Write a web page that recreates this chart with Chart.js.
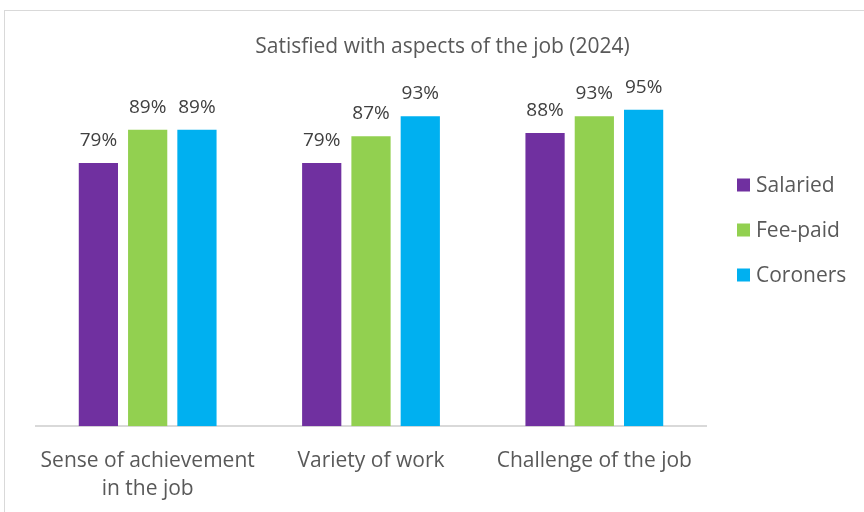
<!DOCTYPE html>
<html>
<head>
<meta charset="utf-8">
<script src="https://cdn.jsdelivr.net/npm/chart.js@4"></script>
<style>
  html, body { margin: 0; padding: 0; background: #fff; overflow: hidden; }
  #frame { position: absolute; left: 4px; top: 10px; width: 900px; height: 540px; border: 1.5px solid #d9d9d9; }
  #wrap { position: absolute; left: 0; top: 0; width: 885px; height: 524px; }
</style>
</head>
<body>
<div id="frame"></div>
<div id="wrap"><canvas id="chart" width="885" height="524"></canvas></div>
<script>
const Categories = [['Sense of achievement', 'in the job'], 'Variety of work', 'Challenge of the job'];
const SeriesNames = ['Salaried', 'Fee-paid', 'Coroners'];
const Salaried = [79, 79, 88];
const FeePaid = [89, 87, 93];
const Coroners = [89, 93, 95];
const SeriesColors = ['#7030A0', '#92D050', '#00B0F0'];
const ChartTitle = 'Satisfied with aspects of the job (2024)';

const FontName = '"Open Sans", Lato, sans-serif';

// title centred over the whole chart box, not just the plot
const BoxTitle = {
    id: 'boxTitle',
    afterDraw(chart){
        const ctx = chart.ctx;
        ctx.save();
        ctx.font = '21px ' + FontName;
        ctx.fillStyle = '#595959';
        ctx.textAlign = 'center';
        ctx.textBaseline = 'middle';
        ctx.fillText(ChartTitle, 442.5, 47);
        ctx.restore();
    }
};

// percentage labels above every bar
const ValueLabels = {
    id: 'valueLabels',
    afterDatasetsDraw(chart){
        const ctx = chart.ctx;
        ctx.save();
        ctx.font = '19px ' + FontName;
        ctx.fillStyle = '#404040';
        ctx.textAlign = 'center';
        ctx.textBaseline = 'bottom';
        chart.data.datasets.forEach((ds, i) => {
            chart.getDatasetMeta(i).data.forEach((bar, j) => {
                ctx.fillText(ds.data[j] + '%', bar.x, bar.y - 13);
            });
        });
        ctx.restore();
    }
};

// legend stacked on the right
const SideLegend = {
    id: 'sideLegend',
    afterDraw(chart){
        const ctx = chart.ctx;
        ctx.save();
        ctx.font = '21px ' + FontName;
        ctx.textBaseline = 'middle';
        chart.data.datasets.forEach((ds, i) => {
            const y = 185 + i * 45;
            ctx.fillStyle = ds.backgroundColor;
            ctx.fillRect(737, y - 6.5, 13, 13);
            ctx.fillStyle = '#595959';
            ctx.fillText(ds.label, 756, y + 1);
        });
        ctx.restore();
    }
};

new Chart(document.getElementById('chart'), {
    type: 'bar',
    data: {
        labels: Categories,
        datasets: [Salaried, FeePaid, Coroners].map((vals, i) => ({
            label: SeriesNames[i],
            data: vals,
            backgroundColor: SeriesColors[i],
            categoryPercentage: 0.662,
            barPercentage: 0.796
        }))
    },
    options: {
        responsive: false,
        animation: false,
        layout: { padding: { left: 36, right: 179, top: 93, bottom: 0 } },
        plugins: {
            legend: { display: false },
            tooltip: { enabled: false },
            title: { display: false }
        },
        scales: {
            x: {
                grid: { display: false, drawTicks: false },
                border: { color: '#d9d9d9', width: 2 },
                ticks: {
                    color: '#595959',
                    font: { family: FontName, size: 21, lineHeight: 1.33 },
                    padding: 21,
                    maxRotation: 0,
                    autoSkip: false
                }
            },
            y: {
                display: false,
                min: 0,
                max: 100
            }
        }
    },
    plugins: [ValueLabels, SideLegend, BoxTitle]
});
</script>
</body>
</html>
